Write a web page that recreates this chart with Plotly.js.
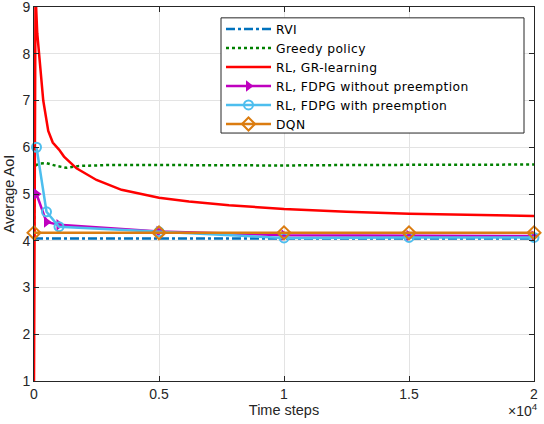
<!DOCTYPE html>
<html>
<head>
<meta charset="utf-8">
<script src="https://cdn.plot.ly/plotly-3.0.1.min.js"></script>
<style>html,body{margin:0;padding:0;background:#fff;}#chart{width:544px;height:424px;}
#chart .legendtext{letter-spacing:0.4px;}
#chart .legend .scrollbox{clip-path:none !important;}</style>
</head>
<body>
<div id="chart"></div>
<script>
// Data
const rviSteps = [0, 20000];
const rviAoI = [4.05, 4.05];

const greedySteps = [0, 20, 200, 500, 900, 1300, 1800, 3000, 5000, 7500, 10000, 12500, 15000, 17500, 20000];
const greedyAoI = [4.08, 5.6, 5.65, 5.66, 5.6, 5.56, 5.6, 5.62, 5.62, 5.61, 5.61, 5.62, 5.62, 5.63, 5.63];

const grSteps = [0, 60, 130, 240, 370, 570, 750, 1000, 1200, 1700, 2500, 3500, 5000, 6200, 7800, 10000, 12500, 15000, 17500, 20000];
const grAoI = [1.0, 9.3, 8.44, 7.73, 7.0, 6.35, 6.1, 5.95, 5.8, 5.55, 5.3, 5.09, 4.92, 4.84, 4.76, 4.68, 4.62, 4.58, 4.55, 4.53];

const noPreSteps = [100, 500, 1000, 5000, 10000, 15000, 20000];
const noPreAoI = [5.0, 4.4, 4.34, 4.2, 4.12, 4.11, 4.1];

const preSteps = [100, 500, 1000, 5000, 10000, 15000, 20000];
const preAoI = [6.0, 4.62, 4.3, 4.19, 4.06, 4.07, 4.07];

const dqnSteps = [0, 5000, 10000, 15000, 20000];
const dqnAoI = [4.17, 4.17, 4.17, 4.17, 4.17];

const xTickVals = [0, 5000, 10000, 15000, 20000];
const xTickText = ['0', '0.5', '1', '1.5', '2'];
const yTickVals = [1, 2, 3, 4, 5, 6, 7, 8, 9];

const names = ['RVI', 'Greedy policy', 'RL, GR-learning', 'RL, FDPG without preemption', 'RL, FDPG with preemption', 'DQN'];

const font = 'Liberation Sans, Arial, Helvetica, sans-serif';
const legendFont = 'DejaVu Sans, Liberation Sans, sans-serif';
const axisColor = '#262626';

const traces = [
  {x: rviSteps, y: rviAoI, name: names[0], mode: 'lines',
   line: {color: '#0072BD', width: 2.5, dash: 'dashdot'}},
  {x: greedySteps, y: greedyAoI, name: names[1], mode: 'lines',
   line: {color: '#008000', width: 2.5, dash: 'dot'}},
  {x: grSteps, y: grAoI, name: names[2], mode: 'lines',
   line: {color: '#FF0000', width: 2.5}},
  {x: noPreSteps, y: noPreAoI, name: names[3], mode: 'lines+markers', cliponaxis: false,
   line: {color: '#BF00BF', width: 2.5},
   marker: {symbol: 'triangle-right', size: 10, color: '#BF00BF'}},
  {x: preSteps, y: preAoI, name: names[4], mode: 'lines+markers', cliponaxis: false,
   line: {color: '#4DBEEE', width: 2.5},
   marker: {symbol: 'circle-open', size: 9, color: '#4DBEEE', line: {width: 2}}},
  {x: dqnSteps, y: dqnAoI, name: names[5], mode: 'lines+markers', cliponaxis: false,
   line: {color: '#DB7C10', width: 2.5},
   marker: {symbol: 'diamond-open', size: 10, color: '#DB7C10', line: {width: 2}}}
];

const layout = {
  width: 544, height: 424,
  margin: {l: 34, r: 10, t: 7, b: 43},
  paper_bgcolor: '#fff', plot_bgcolor: '#fff',
  font: {family: font, size: 14, color: axisColor},
  showlegend: true,
  legend: {
    x: 0.374, y: 0.980, xanchor: 'left', yanchor: 'top',
    bgcolor: 'rgba(0,0,0,0)', borderwidth: 0,
    font: {family: legendFont, size: 12.3, color: '#000'},
    tracegroupgap: 0, itemwidth: 45
  },
  shapes: [{
    type: 'rect', xref: 'paper', yref: 'paper', layer: 'above',
    x0: 0.374, x1: 0.98, y0: 0.663, y1: 0.971,
    fillcolor: '#fff', line: {color: axisColor, width: 1}
  }],
  xaxis: {
    range: [0, 20000], tickvals: xTickVals, ticktext: xTickText,
    showgrid: true, gridcolor: '#E3E3E3', gridwidth: 1,
    zeroline: false, showline: true, linecolor: axisColor, linewidth: 1, mirror: 'ticks',
    ticks: 'inside', ticklen: 5, tickcolor: axisColor, ticklabeloverflow: 'allow',
    tickfont: {family: font, size: 14, color: axisColor},
    title: {text: 'Time steps', font: {family: font, size: 14.5, color: axisColor}, standoff: 2},
    automargin: false
  },
  yaxis: {
    range: [1, 9], tickvals: yTickVals,
    showgrid: true, gridcolor: '#E3E3E3', gridwidth: 1,
    zeroline: false, showline: true, linecolor: axisColor, linewidth: 1, mirror: 'ticks',
    ticks: 'inside', ticklen: 5, tickcolor: axisColor, ticklabeloverflow: 'allow',
    tickfont: {family: font, size: 14, color: axisColor},
    title: {text: 'Average AoI', font: {family: font, size: 14.5, color: axisColor}, standoff: 4},
    automargin: false
  },
  annotations: [{
    xref: 'paper', yref: 'paper', x: 1.012, y: -0.078, xanchor: 'right', yanchor: 'middle',
    text: '×10<sup>4</sup>', showarrow: false, font: {family: font, size: 14, color: axisColor}
  }]
};

Plotly.newPlot('chart', traces, layout, {displayModeBar: false, staticPlot: true});
</script>
</body>
</html>
